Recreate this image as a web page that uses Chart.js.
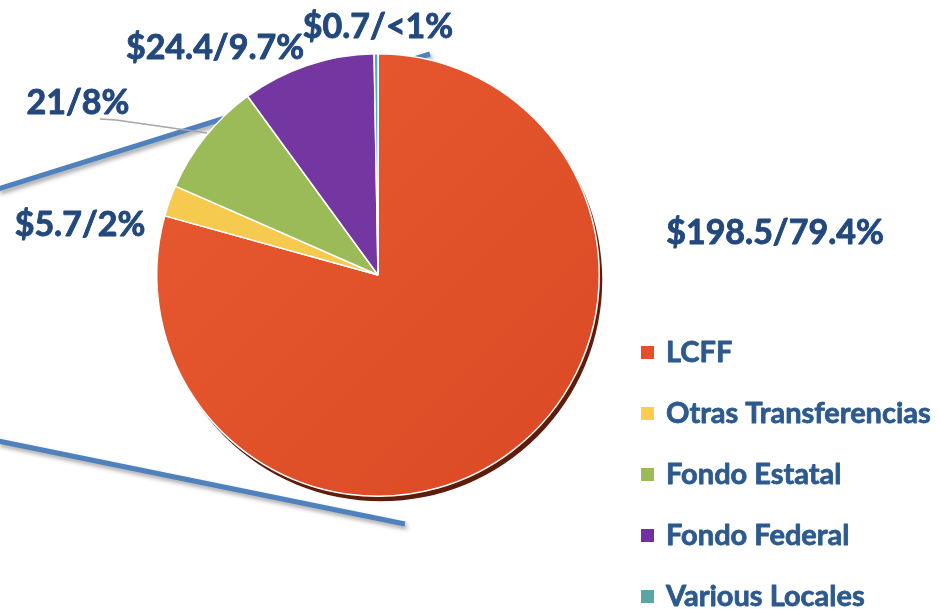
<!DOCTYPE html>
<html lang="es">
<head>
    <meta charset="UTF-8">
    <title>Ingresos</title>
    <script src="https://cdn.jsdelivr.net/npm/chart.js"></script>
    <style>
        html, body { margin: 0; padding: 0; background: #fff; }
        #wrap { width: 941px; height: 609px; }
    </style>
</head>
<body>
    <div id="wrap"><canvas id="pieChart" width="941" height="609"></canvas></div>

    <script>
        // data
        const categories = ['LCFF', 'Otras Transferencias', 'Fondo Estatal', 'Fondo Federal', 'Various Locales'];
        const amounts = [198.5, 5.7, 21, 24.4, 0.7];
        const sliceLabels = ['$198.5/79.4%', '$5.7/2%', '21/8%', '$24.4/9.7%', '$0.7/<1%'];

        const colors = ['#E0502A', '#F6C94F', '#9BBB59', '#7436A0', '#4BACC6'];
        const legendColors = ['#E94E2B', '#FFCC4E', '#9BBB59', '#7030A0', '#5AA6A6'];

        // label offsets from the pie centre (px)
        const labelOffsets = [[397, -42], [-298, -50], [-300, -172], [-163, -227], [0, -248]];

        // slight left-to-right shading like the original
        function sliceColor(c) {
            const i = c.dataIndex;
            const area = c.chart.chartArea;
            if (i !== 0 || !area) return colors[i];
            const g = c.chart.ctx.createLinearGradient(area.left, area.top, area.right, area.bottom);
            g.addColorStop(0, '#E95A31');
            g.addColorStop(1, '#DA4924');
            return g;
        }

        const decoPlugin = {
            id: 'deco',
            beforeDatasetsDraw(chart) {
                const ctx = chart.ctx;
                const arc = chart.getDatasetMeta(0).data[0];
                const cx = arc.x, cy = arc.y, r = arc.outerRadius;

                // blue callout lines behind the pie
                ctx.save();
                ctx.strokeStyle = '#4F81BD';
                ctx.lineWidth = 5;
                ctx.shadowColor = 'rgba(0,0,0,0.35)';
                ctx.shadowBlur = 4;
                ctx.shadowOffsetX = 2;
                ctx.shadowOffsetY = 3;
                ctx.beginPath();
                ctx.moveTo(cx - 380, cy - 86);
                ctx.lineTo(cx + 52, cy - 221);
                ctx.moveTo(cx - 380, cy + 166);
                ctx.lineTo(cx + 27, cy + 249);
                ctx.stroke();
                ctx.restore();

                // dark rim under the pie
                ctx.save();
                ctx.fillStyle = '#5E1C0C';
                ctx.beginPath();
                ctx.arc(cx + 3, cy + 5, r, 0, Math.PI * 2);
                ctx.fill();
                ctx.restore();
            },
            afterDraw(chart) {
                const ctx = chart.ctx;
                const arc = chart.getDatasetMeta(0).data[0];
                const cx = arc.x, cy = arc.y;

                ctx.save();
                // leader line for the 21/8% label
                ctx.strokeStyle = '#A6A6A6';
                ctx.lineWidth = 1.5;
                ctx.beginPath();
                ctx.moveTo(cx - 278, cy - 156);
                ctx.lineTo(cx - 262, cy - 155);
                ctx.lineTo(cx - 171, cy - 142);
                ctx.stroke();

                ctx.fillStyle = '#22487D';
                ctx.strokeStyle = '#22487D';
                ctx.lineWidth = 0.9;
                ctx.lineJoin = 'round';
                ctx.font = 'bold 34px Lato';
                ctx.textAlign = 'center';
                ctx.textBaseline = 'middle';
                sliceLabels.forEach((t, i) => {
                    const x = cx + labelOffsets[i][0], y = cy + labelOffsets[i][1];
                    ctx.fillText(t, x, y);
                    ctx.strokeText(t, x, y);
                });

                // legend
                ctx.font = 'bold 29px Lato';
                ctx.textAlign = 'left';
                ctx.strokeStyle = '#2D5A8E';
                ctx.lineWidth = 0.8;
                categories.forEach((c, i) => {
                    const y = 352 + i * 61;
                    ctx.fillStyle = legendColors[i];
                    ctx.fillRect(641, y - 6, 13, 13);
                    ctx.fillStyle = '#2D5A8E';
                    ctx.fillText(c, 666, y + 1);
                    ctx.strokeText(c, 666, y + 1);
                });
                ctx.restore();
            }
        };

        const ctx = document.getElementById('pieChart').getContext('2d');
        const pieChart = new Chart(ctx, {
            type: 'pie',
            data: {
                labels: categories,
                datasets: [{
                    data: amounts,
                    backgroundColor: sliceColor,
                    borderColor: '#ffffff',
                    borderWidth: 1.5
                }]
            },
            options: {
                responsive: false,
                animation: false,
                layout: {
                    padding: { top: 53, bottom: 112, left: 156, right: 341 }
                },
                plugins: {
                    legend: { display: false },
                    tooltip: { enabled: false }
                }
            },
            plugins: [decoPlugin]
        });
    </script>
</body>
</html>
